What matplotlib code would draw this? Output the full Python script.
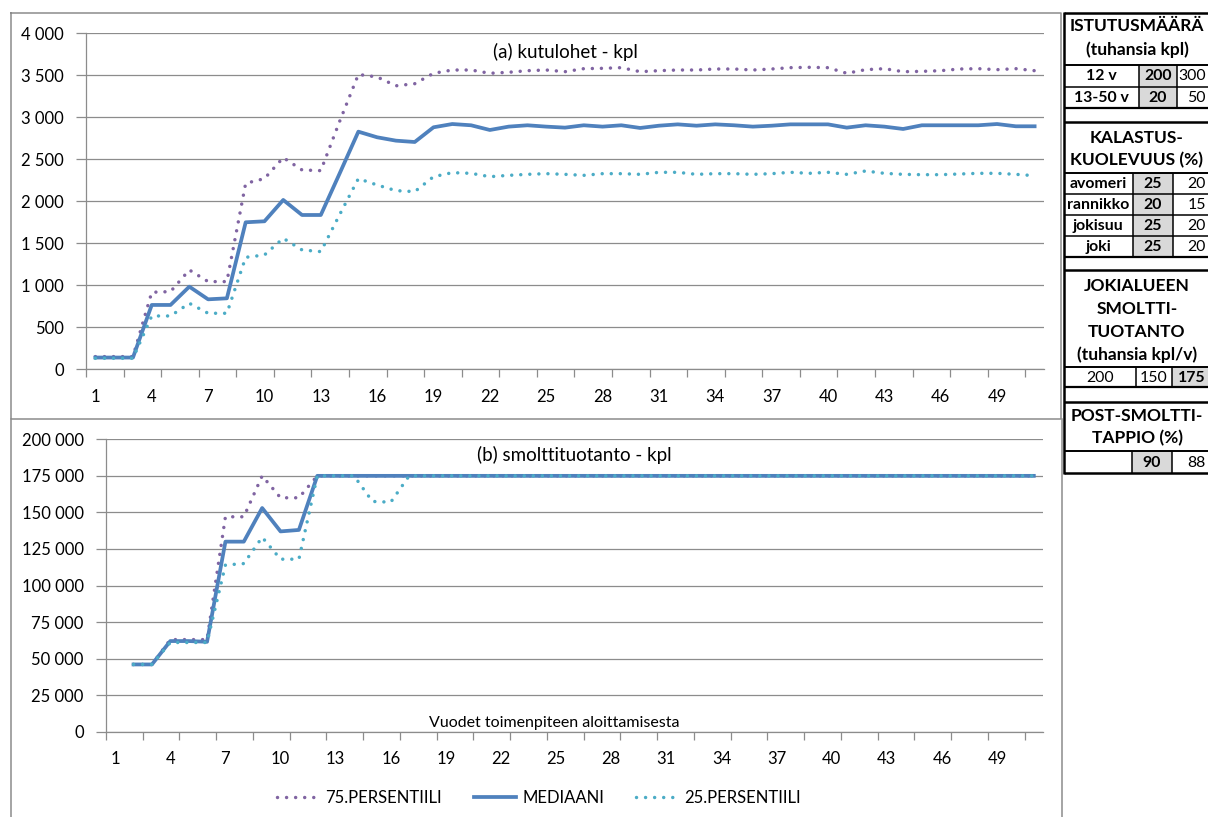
import matplotlib.pyplot as plt
import numpy as np
from matplotlib.ticker import FuncFormatter
from matplotlib.patches import Rectangle

plt.rcParams['font.family'] = ['Lato', 'DejaVu Sans']

years = np.arange(1, 52)

# (a) kutulohet - kpl
kutu_75 = [151, 151, 151, 917, 925, 1183, 1044, 1044, 2214, 2270, 2520, 2373, 2365, 2950, 3510, 3480, 3375, 3400,
           3524, 3563, 3563, 3524, 3536, 3555, 3563, 3543, 3579, 3583, 3591, 3543, 3555, 3563, 3563, 3575, 3575,
           3563, 3575, 3591, 3595, 3591, 3524, 3567, 3579, 3543, 3547, 3555, 3575, 3579, 3567, 3579, 3555]
kutu_med = [140, 140, 140, 766, 766, 984, 833, 845, 1750, 1762, 2016, 1837, 1837, 2330, 2829, 2762, 2722, 2706,
            2881, 2920, 2905, 2849, 2889, 2905, 2889, 2877, 2905, 2889, 2905, 2873, 2900, 2916, 2900, 2916, 2905,
            2889, 2900, 2916, 2916, 2916, 2877, 2905, 2889, 2861, 2905, 2905, 2905, 2905, 2920, 2893, 2893]
kutu_25 = [131, 131, 131, 635, 635, 786, 667, 667, 1333, 1361, 1560, 1421, 1401, 1840, 2270, 2194, 2127, 2115,
           2293, 2341, 2333, 2293, 2309, 2321, 2329, 2321, 2309, 2329, 2329, 2321, 2345, 2345, 2321, 2329, 2329,
           2321, 2329, 2345, 2333, 2345, 2321, 2361, 2333, 2321, 2317, 2317, 2325, 2333, 2333, 2321, 2305]

# (b) smolttituotanto - kpl (no value in year 1)
nan = np.nan
smolt_75 = [nan, 46000, 46000, 63000, 63000, 63000, 147000, 147000, 175000, 160000, 160000, 175000,
            175000, 175000, 175000, 175000, 175000, 175000, 175000, 175000, 175000, 175000, 175000, 175000, 175000,
            175000, 175000, 175000, 175000, 175000, 175000, 175000, 175000, 175000, 175000, 175000, 175000, 175000,
            175000, 175000, 175000, 175000, 175000, 175000, 175000, 175000, 175000, 175000, 175000, 175000, 175000]
smolt_med = [nan, 46000, 46000, 62000, 62000, 61500, 130000, 130000, 153000, 137000, 138000, 175000,
             175000, 175000, 175000, 175000, 175000, 175000, 175000, 175000, 175000, 175000, 175000, 175000, 175000,
             175000, 175000, 175000, 175000, 175000, 175000, 175000, 175000, 175000, 175000, 175000, 175000, 175000,
             175000, 175000, 175000, 175000, 175000, 175000, 175000, 175000, 175000, 175000, 175000, 175000, 175000]
smolt_25 = [nan, 46000, 46000, 61000, 61000, 61000, 114000, 115000, 133000, 118000, 118000, 175000,
            175000, 175000, 157500, 157000, 175000, 175000, 175000, 175000, 175000, 175000, 175000, 175000, 175000,
            175000, 175000, 175000, 175000, 175000, 175000, 175000, 175000, 175000, 175000, 175000, 175000, 175000,
            175000, 175000, 175000, 175000, 175000, 175000, 175000, 175000, 175000, 175000, 175000, 175000, 175000]

labels = ['75.PERSENTIILI', 'MEDIAANI', '25.PERSENTIILI']

# side table
ist_rows = ['12 v', '13-50 v']
ist_sel = ['200', '20']
ist_alt = ['300', '50']
kal_rows = ['avomeri', 'rannikko', 'jokisuu', 'joki']
kal_sel = ['25', '20', '25', '25']
kal_alt = ['20', '15', '20', '20']
smolt_opts = ['200', '150', '175']
post_opts = ['', '90', '88']

PURPLE = '#8064A2'
BLUE = '#4F81BD'
CYAN = '#4BACC6'
GRID = '#8C8C8C'
CELL = '#D9D9D9'
HFS = 12.5   # table headers
TFS = 11.4   # table cells

W, H = 1208, 817
fig = plt.figure(figsize=(W / 100, H / 100), dpi=100)


def box(x0, y0, x1, y1):
    return [x0 / W, 1 - y1 / H, (x1 - x0) / W, (y1 - y0) / H]


fmt = FuncFormatter(lambda v, p: f'{int(v):,}'.replace(',', ' '))
dots = (0, (0.01, 2.6))


def style(ax, ymax, step):
    ax.set_xlim(0.5, 51.5)
    ax.set_ylim(0, ymax)
    ax.set_yticks(np.arange(0, ymax + 1, step))
    ax.yaxis.set_major_formatter(fmt)
    ax.grid(axis='y', color=GRID, lw=0.9)
    ax.set_axisbelow(True)
    ax.set_xticks(years[::3])
    ax.set_xticks(np.arange(0.5, 51, 2), minor=True)
    ax.tick_params(axis='x', which='major', length=0, pad=14, labelsize=12)
    ax.tick_params(axis='x', which='minor', length=6, color=GRID, width=0.9)
    ax.tick_params(axis='y', length=7, color=GRID, width=0.9, pad=9, labelsize=12)
    for s in ['top', 'right']:
        ax.spines[s].set_visible(False)
    for s in ['left', 'bottom']:
        ax.spines[s].set_color(GRID)
        ax.spines[s].set_linewidth(0.9)


def draw(ax, p75, med, p25):
    ax.plot(years, p75, color=PURPLE, lw=2.5, ls=dots, dash_capstyle='round', label=labels[0])
    ax.plot(years, med, color=BLUE, lw=2.7, solid_joinstyle='round', label=labels[1])
    ax.plot(years, p25, color=CYAN, lw=2.5, ls=dots, dash_capstyle='round', label=labels[2])


ax1 = fig.add_axes(box(86, 33.3, 1044, 369.3))
style(ax1, 4000, 500)
draw(ax1, kutu_75, kutu_med, kutu_25)
ax1.text(0.5, 0.944, '(a) kutulohet - kpl', transform=ax1.transAxes, ha='center', va='center', fontsize=13.5)

ax2 = fig.add_axes(box(106, 439.3, 1043, 731.7))
style(ax2, 200000, 25000)
draw(ax2, smolt_75, smolt_med, smolt_25)
ax2.text(0.5, 0.946, '(b) smolttituotanto - kpl', transform=ax2.transAxes, ha='center', va='center', fontsize=13.5)
ax2.text(0.478, 0.03, 'Vuodet toimenpiteen aloittamisesta', transform=ax2.transAxes, ha='center', va='center',
         fontsize=11.5)
ax2.legend(loc='center', bbox_to_anchor=(539 / W, 1 - 798 / H), bbox_transform=fig.transFigure, ncol=3,
           frameon=False, handlelength=2.5, handletextpad=0.4, columnspacing=1.9, fontsize=12)

# overlay in pixel coordinates for chart borders and the side table
ov = fig.add_axes([0, 0, 1, 1])
ov.set_xlim(0, W)
ov.set_ylim(H, 0)
ov.axis('off')

ov.plot([11, 1061, 1061, 11, 11], [13, 13, 419, 419, 13], color=GRID, lw=1.1)
ov.plot([11, 11], [419, 820], color=GRID, lw=1.1)
ov.plot([1062, 1062], [419, 820], color=GRID, lw=1.1)

TL, TR = 1063.5, 1230


def hline(y, lw=1.4):
    ov.plot([TL, TR], [y, y], color='black', lw=lw, solid_capstyle='butt')


def vline(x, y0, y1, lw=1.1):
    ov.plot([x, x], [y0, y1], color='black', lw=lw, solid_capstyle='butt')


def cell(x0, x1, y0, y1, txt, bold=False, fill=None, edge=False):
    if fill:
        ov.add_patch(Rectangle((x0, y0), x1 - x0, y1 - y0, facecolor=fill, edgecolor='none'))
    if edge:
        # last column runs past the picture edge: keep its text inside
        ov.text(1206, (y0 + y1) / 2 + 0.5, txt, ha='right', va='center', fontsize=TFS,
                fontweight='bold' if bold else 'normal')
    else:
        ov.text((x0 + x1) / 2, (y0 + y1) / 2 + 0.5, txt, ha='center', va='center', fontsize=TFS,
                fontweight='bold' if bold else 'normal')


def header(lines, ys):
    for t, y in zip(lines, ys):
        ov.text(1137, y, t, ha='center', va='center', fontsize=HFS, fontweight='bold')


def row_block(y0, heights, names, sel, alt, d1, d2):
    y = y0
    for n, s, a in zip(names, sel, alt):
        cell(TL, d1, y, y + heights, n, bold=True)
        cell(d1, d2, y, y + heights, s, bold=True, fill=CELL)
        cell(d2, 1240, y, y + heights, a, edge=True)
        vline(d1, y, y + heights)
        vline(d2, y, y + heights)
        hline(y + heights, 1.1)
        y += heights
    return y


# ISTUTUSMÄÄRÄ
header(['ISTUTUSMÄÄRÄ', '(tuhansia kpl)'], [26, 50])
hline(12.5, 1.8)
hline(65, 1.4)
row_block(65, 21.5, ist_rows, ist_sel, ist_alt, 1139, 1177)
hline(108, 1.6)
hline(122, 1.8)

# KALASTUSKUOLEVUUS
header(['KALASTUS-', 'KUOLEVUUS (%)'], [138, 160])
hline(173, 1.4)
row_block(173, 21, kal_rows, kal_sel, kal_alt, 1133, 1173)
hline(257, 1.6)
hline(270, 1.8)

# SMOLTTITUOTANTO
header(['JOKIALUEEN', 'SMOLTTI-', 'TUOTANTO', '(tuhansia kpl/v)'], [286, 309, 332, 355])
hline(367, 1.4)
cell(TL, 1136, 367, 387, smolt_opts[0])
cell(1136, 1172, 367, 387, smolt_opts[1])
cell(1172, 1222, 367, 387, smolt_opts[2], bold=True, fill=CELL, edge=True)
vline(1136, 367, 387)
vline(1172, 367, 387)
hline(387, 1.6)
hline(402, 1.8)

# POST-SMOLTTITAPPIO
header(['POST-SMOLTTI-', 'TAPPIO (%)'], [416, 438])
hline(451, 1.4)
cell(TL, 1132, 451, 473, post_opts[0])
cell(1132, 1172, 451, 473, post_opts[1], bold=True, fill=CELL)
cell(1172, 1232, 451, 473, post_opts[2], edge=True)
vline(1132, 451, 473)
vline(1172, 451, 473)
hline(473, 1.8)

vline(TL, 12, 473.5, lw=1.8)

fig.savefig('out.png', dpi=100)
